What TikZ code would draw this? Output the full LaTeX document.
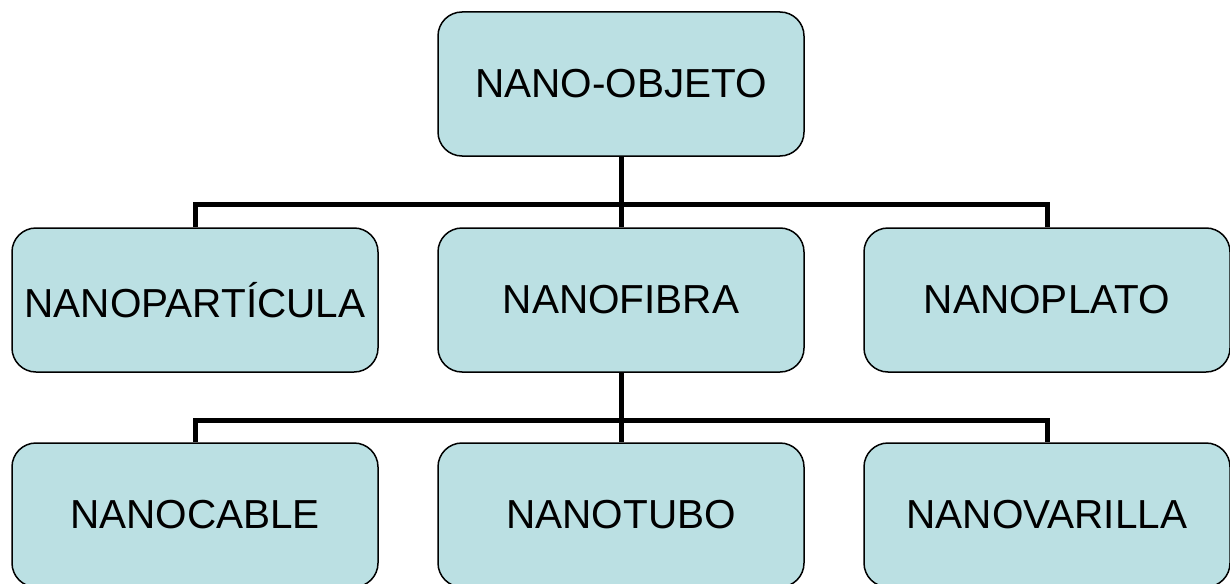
\documentclass[tikz,border=0pt]{standalone}
\usepackage{fontspec}
\setmainfont{Liberation Sans}
\definecolor{boxfill}{HTML}{BBE0E3}
\begin{document}
\begin{tikzpicture}[x=1pt,y=1pt,
  box/.style={draw=black, line width=1.5pt, fill=boxfill, rounded corners=24pt,
    minimum width=366pt, minimum height=144pt, inner sep=0pt,
    font=\fontsize{40.5}{45}\selectfont},
  conn/.style={draw=black, line width=5pt}]
\useasboundingbox (0,0) rectangle (1230,-583);
\node[box] (top) at (621,-84) {NANO-OBJETO};
\node[box] (np) at (195,-300) {NANOPARTÍCULA};
\node[box] (nf) at (621,-300) {NANOFIBRA};
\node[box] (npl) at (1047,-300) {NANOPLATO};
\node[box] (nc) at (195,-515) {NANOCABLE};
\node[box] (nt) at (621,-515) {NANOTUBO};
\node[box] (nv) at (1047,-515) {NANOVARILLA};
\coordinate (b1) at (621,-204);
\coordinate (b2) at (621,-420);
\draw[conn] (top.south) -- (nf.north);
\draw[conn] (b1) -| (np.north);
\draw[conn] (b1) -| (npl.north);
\draw[conn] (nf.south) -- (nt.north);
\draw[conn] (b2) -| (nc.north);
\draw[conn] (b2) -| (nv.north);
\end{tikzpicture}
\end{document}
